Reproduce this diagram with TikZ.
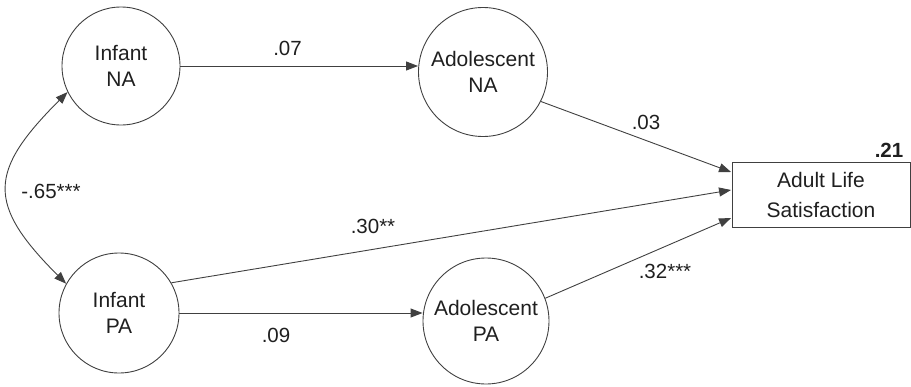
\documentclass[tikz,border=0pt]{standalone}
\usepackage{fontspec}
\setmainfont{Liberation Sans}
\usetikzlibrary{arrows.meta,calc}
\begin{document}
\begin{tikzpicture}[x=1pt,y=-1pt,
  every node/.style={text=black!88},
  latent/.style={circle,draw=black!75,line width=0.9pt,inner sep=0pt,align=center,
    font=\fontsize{21}{26}\selectfont},
  observed/.style={rectangle,draw=black!75,line width=0.9pt,inner sep=0pt,align=center,
    minimum width=178pt,minimum height=65pt,font=\fontsize{21}{30}\selectfont},
  path/.style={draw=black!75,line width=0.9pt,-{Triangle[length=12pt,width=9pt]}},
  coef/.style={inner sep=0pt,font=\fontsize{20.5}{22}\selectfont},
]
\useasboundingbox (0,0) rectangle (911,386);
\node[latent,minimum size=118pt] (ina) at (121,66) {Infant\\NA};
\node[latent,minimum size=120pt] (ipa) at (119,313) {Infant\\PA};
\node[latent,minimum size=129pt] (ana) at (483,72) {Adolescent\\NA};
\node[latent,minimum size=126pt] (apa) at (486,321) {Adolescent\\PA};
\node[observed] (als) at (821,194.5) {Adult Life\\Satisfaction};
\coordinate (e1) at ([yshift=22.5pt,xshift=-0.5pt]als.west);
\coordinate (e2) at ([yshift=4.5pt,xshift=-0.5pt]als.west);
\coordinate (e3) at ([yshift=-23.5pt,xshift=-0.5pt]als.west);
\draw[path] (ina.east) -- (ina.east -| ana.west);
\draw[path] (ipa.east) -- (ipa.east -| apa.west);
\draw[path] (ana.-27) -- (e1);
\draw[path] (ipa.30) -- (e2);
\draw[path] (apa.21) -- (e3);
\draw[draw=black!75,line width=0.9pt,{Triangle[length=12pt,width=9pt]}-{Triangle[length=12pt,width=9pt]}]
  (ina.206) to[out=225,in=135,looseness=1.5] (ipa.151);
\node[coef] (c07) at (287.5,48.5) {.07};
\node[coef] (c09) at (276,335) {.09};
\node[coef] (c30) at (373,226) {.30**};
\node[coef] (c03) at (646,122) {.03};
\node[coef] (c32) at (665,271) {.32***};
\node[coef] (c65) at (51,191) {-.65***};
\node[coef,font=\bfseries\fontsize{20.5}{22}\selectfont] (r2) at (889,150) {.21};
\end{tikzpicture}
\end{document}
